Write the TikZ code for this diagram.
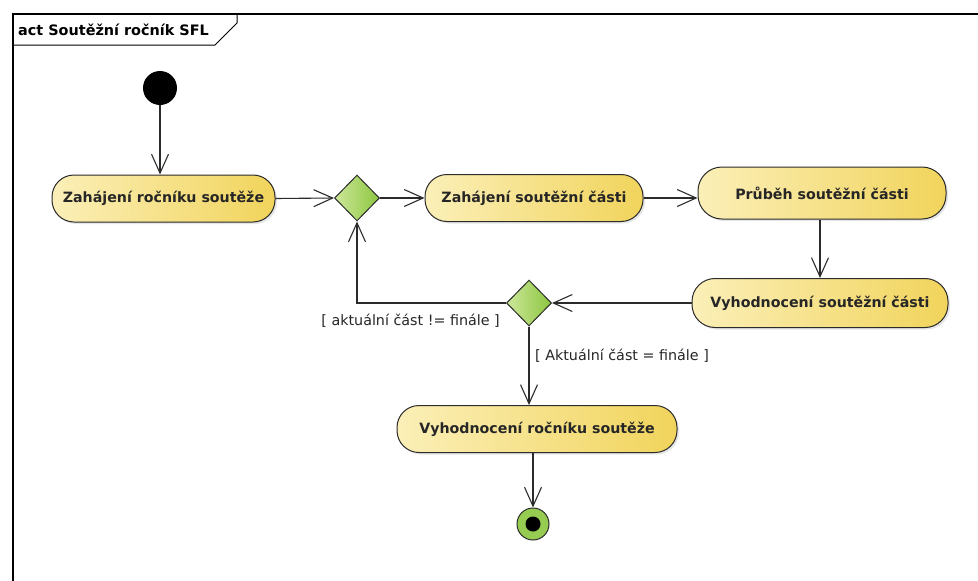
\documentclass[tikz,border=0pt]{standalone}
\usepackage{fontspec}
\setmainfont{DejaVu Sans}
\usetikzlibrary{arrows.meta,shapes.geometric,shadows}
\definecolor{actL}{HTML}{FBEFB8}
\definecolor{actR}{HTML}{F1D45C}
\definecolor{decL}{HTML}{CDE79A}
\definecolor{decR}{HTML}{8CC63F}
\definecolor{edgec}{HTML}{2B2B2B}
\tikzset{
  act/.style={draw=edgec, line width=1pt, left color=actL, right color=actR,
    rounded corners=22pt, minimum height=47pt, inner sep=0pt,
    drop shadow={shadow xshift=2pt, shadow yshift=-2pt, opacity=0.2},
    font=\bfseries\fontsize{14.2}{16}\selectfont, text=black!85},
  dec/.style={draw=edgec, line width=1pt, diamond, left color=decL, right color=decR,
    minimum width=45pt, minimum height=46pt, inner sep=0pt},
  flow/.style={draw=edgec, line width=1.1pt, -{Straight Barb[length=19pt,width=17pt,line width=1.1pt]}},
  guard/.style={font=\fontsize{14.3}{16}\selectfont, text=black!85}
}
\begin{document}
\begin{tikzpicture}[x=1pt,y=-1pt]
\useasboundingbox (0,0) rectangle (978,581);
% frame
\draw[line width=1.3pt] (13,581) -- (13,14) -- (978,14);
\draw[line width=1pt] (13,45) -- (215,45) -- (237,23) -- (237,14);
\node[anchor=west, font=\bfseries\fontsize{14.4}{16}\selectfont, inner sep=0pt] (title) at (18,30) {act Soutěžní ročník SFL};
% nodes
\node[circle, fill=black, minimum size=34pt, inner sep=0pt] (init) at (160,88) {};
\node[act, minimum width=223pt] (a1) at (163.5,198.5) {Zahájení ročníku soutěže};
\node[dec] (d1) at (357,198) {};
\node[act, minimum width=218pt] (a2) at (534,198) {Zahájení soutěžní části};
\node[act, minimum width=248pt, minimum height=52pt, rounded corners=24pt] (a3) at (822,193) {Průběh soutěžní části};
\node[act, minimum width=256pt, minimum height=49pt, rounded corners=23pt] (a4) at (820,303) {Vyhodnocení soutěžní části};
\node[dec] (d2) at (529,303) {};
\node[act, minimum width=280pt] (a5) at (537,429) {Vyhodnocení ročníku soutěže};
\node[circle, draw=edgec, line width=1pt, fill=decR!90!white, minimum size=32pt, inner sep=0pt] (fin) at (533,524) {};
\node[circle, fill=black, minimum size=15pt, inner sep=0pt] (finin) at (fin) {};
% edges
\draw[flow] (init.south) -- (init.south |- a1.north);
\draw[flow] (a1.east) -- (d1.west);
\draw[flow] (d1.east) -- (a2.west);
\draw[flow] (a2.east) -- (a2.east -| a3.west);
\draw[flow] (a4.north |- a3.south) -- (a4.north);
\draw[flow] (a4.west) -- (d2.east);
\draw[flow] (d2.west) -| (d1.south);
\draw[flow] (d2.south) -- (d2.south |- a5.north);
\draw[flow] (fin.north |- a5.south) -- (fin.north);
% guards
\node[guard, anchor=north east, inner sep=0pt] (g1) at (500,314) {[ aktuální část != finále ]};
\node[guard, anchor=west, inner sep=0pt] (g2) at (535,356) {[ Aktuální část = finále ]};
\end{tikzpicture}
\end{document}
